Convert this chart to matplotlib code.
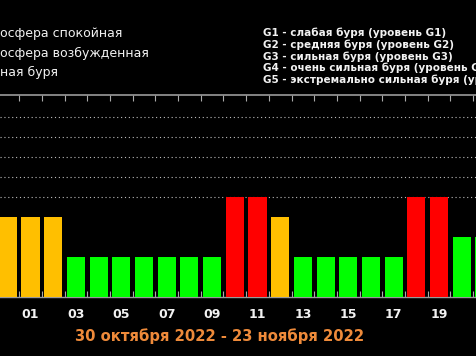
import matplotlib
matplotlib.use("Agg")
import matplotlib.pyplot as plt
import numpy as np

# daily max Kp, 31 Oct .. 21 Nov 2022 (visible part of the chart)
days = ["31", "01", "02", "03", "04", "05", "06", "07", "08", "09", "10",
        "11", "12", "13", "14", "15", "16", "17", "18", "19", "20", "21"]
kp = [4, 4, 4, 2, 2, 2, 2, 2, 2, 2, 5, 5, 4, 2, 2, 2, 2, 2, 5, 5, 3, 3]
labels = ["01", "03", "05", "07", "09", "11", "13", "15", "17", "19"]

legend_left = ["осфера спокойная", "осфера возбужденная", "ная буря"]
legend_right = ["G1 - слабая буря (уровень G1)",
                "G2 - средняя буря (уровень G2)",
                "G3 - сильная буря (уровень G3)",
                "G4 - очень сильная буря (уровень G4)",
                "G5 - экстремально сильная буря (уровень G5)"]
title = "30 октября 2022 - 23 ноября 2022"


def kp_color(v):
    """ Colour of a bar by its Kp value. """
    if v >= 5:
        return "#ff0000"
    if v == 4:
        return "#ffbf00"
    return "#00ff00"


W, H = 476, 356
fig = plt.figure(figsize=(W / 100, H / 100), dpi=100, facecolor="black")
ax = fig.add_axes([0, (H - 297) / H, 1, (297 - 95) / H], facecolor="black")

x = np.arange(len(days))
ax.bar(x, kp, width=0.8, color=[kp_color(v) for v in kp], zorder=3)

for lvl in range(5, 10):
    ax.axhline(lvl, color="#bbbbbb", lw=0.8, dashes=(1, 2.5), zorder=2)

step = 22.7  # pixels per day
ax.set_xlim(1 - 30.5 / step, 1 - 30.5 / step + W / step)
ax.set_ylim(0, 10.1)

ax.set_xticks([days.index(d) for d in labels])
ax.set_xticklabels(labels, color="#f2f2f2", fontsize=9, fontweight="bold")
ax.set_xticks(x[:-1] + 0.5, minor=True)
ax.tick_params(axis="x", which="major", length=0, pad=8)
ax.tick_params(axis="x", which="minor", direction="in", length=4,
               color="#aaaaaa", top=True, bottom=True, width=0.8)
ax.set_yticks([])

for side in ["left", "right"]:
    ax.spines[side].set_visible(False)
ax.spines["top"].set_color("#9a9a9a")
ax.spines["top"].set_linewidth(1.2)
ax.spines["bottom"].set_color("#9a9a9a")
ax.spines["bottom"].set_linewidth(1)

for i, t in enumerate(legend_left):
    fig.text(0, 1 - (34 + 19 * i) / H, t, color="#f2f2f2", fontsize=9,
             va="center", ha="left")
for i, t in enumerate(legend_right):
    fig.text(263 / W, 1 - (33 + 11.7 * i) / H, t, color="#f2f2f2",
             fontsize=7.5, fontweight="bold", va="center", ha="left")

fig.text(219.5 / W, 1 - 336 / H, title, color="#ee8a3a", fontsize=10.6,
         fontweight="bold", ha="center", va="center")

fig.savefig("out.png", dpi=100, facecolor="black")
